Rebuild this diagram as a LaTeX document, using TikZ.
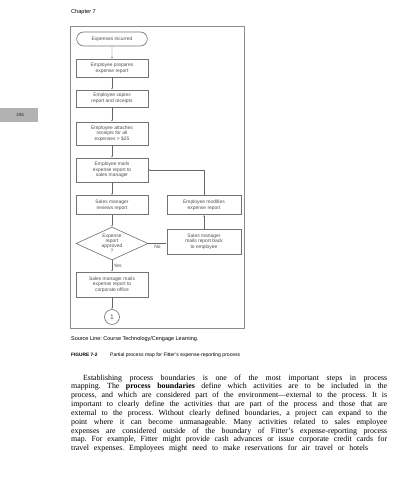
\documentclass[tikz,border=0pt]{standalone}
\usepackage{fontspec}
\setmainfont{Liberation Serif}
\setsansfont{Liberation Sans}
\usetikzlibrary{arrows.meta, shapes.geometric, shapes.misc}
\frenchspacing
\newcommand{\flowfont}{\sffamily\fontsize{7}{8.1}\selectfont}
\newcommand{\bodyfont}{\rmfamily\fontsize{11.2}{12}\selectfont}
\tikzset{
  stepbox/.style = {draw=black!55, line width=0.9pt, minimum width=36mm, align=center, font=\flowfont, text=black!70, inner sep=1pt},
  term/.style = {stepbox, rounded rectangle, minimum height=7mm},
  decision/.style = {stepbox, diamond, aspect=2.2, minimum width=36mm, minimum height=16.5mm, inner sep=-1.5pt, font=\sffamily\fontsize{7}{7.4}\selectfont},
  flow/.style = {draw=black!60, line width=0.5pt, -{Latex[length=2.4pt, width=2pt]}},
  lbl/.style = {font=\flowfont, text=black!70, inner sep=2pt},
  bodyline/.style = {anchor=base west, inner sep=0pt, font=\bodyfont}
}
\begin{document}
\begin{tikzpicture}[x=0.5mm, y=-0.5mm]
\useasboundingbox (0,0) rectangle (403,480);
\node[anchor=west, inner sep=0pt, font=\sffamily\fontsize{8}{9}\selectfont] (chap) at (71,12) {Chapter 7};
\fill[black!30] (0,108) rectangle (38,122);
\node[font=\sffamily\fontsize{6.5}{7}\selectfont, text=black!80] (page) at (20,115) {186};
\draw[black!45, line width=0.5pt] (70,26) rectangle (244,328);

\node[term] (inc) at (112,39) {Expenses incurred};
\node[stepbox, minimum height=9mm] (prep) at (112,68) {Employee prepares\\expense report};
\node[stepbox, minimum height=8.5mm] (copy) at (112,98.5) {Employee copies\\report and receipts};
\node[stepbox, minimum height=11.5mm] (attach) at (112,133.5) {Employee attaches\\receipts for all\\expenses > \$25};
\node[stepbox, minimum height=12mm] (mail) at (112,170) {Employee mails\\expense report to\\sales manager};
\node[stepbox, minimum height=9.5mm] (review) at (112,205) {Sales manager\\reviews report};
\node[decision] (ok) at (112,243.5) {Expense\\report\\approved\\?};
\node[stepbox, minimum height=12.5mm] (corp) at (112,284.5) {Sales manager mails\\expense report to\\corporate office};
\node[stepbox, circle, minimum size=7.5mm, inner sep=0pt, font=\sffamily\fontsize{9.5}{10}\selectfont] (one) at (112,317) {1};
\node[stepbox, minimum width=37mm, minimum height=9.5mm] (modify) at (204,205) {Employee modifies\\expense report};
\node[stepbox, minimum width=37mm, minimum height=12.5mm] (back) at (204,241.5) {Sales manager\\mails report back\\to employee};

\draw[flow] (inc) -- (prep);
\draw[flow] (prep) -- (copy);
\draw[flow] (copy) -- (attach);
\draw[flow] (attach) -- (mail);
\draw[flow] (mail) -- (review);
\draw[flow] (review) -- (ok);
\draw[flow] (ok) -- node[right, lbl] {Yes} (corp);
\draw[flow] (corp) -- (one);
\draw[flow] (ok.east) -- node[below, lbl] {No} (ok.east -| back.west);
\draw[flow] (back) -- (modify);
\draw[flow] (modify.north) |- (mail.east);

\node[anchor=west, inner sep=0pt, font=\sffamily\fontsize{7.8}{9}\selectfont] (src) at (71,339) {Source Line: Course Technology/Cengage Learning.};
\node[anchor=west, inner sep=0pt, font=\sffamily\bfseries\fontsize{6.8}{8}\selectfont] (fig) at (71,355) {FIGURE 7-2};
\node[anchor=west, inner sep=0pt, font=\sffamily\fontsize{7.2}{8}\selectfont] (cap) at (110,355) {Partial process map for Fitter's expense-reporting process};

\node[bodyline] (l1) at (83,380) {\makebox[152mm][s]{Establishing process boundaries is one of the most important steps in process}};
\node[bodyline] (l2) at (71,388.8) {\makebox[158mm][s]{mapping. The \textbf{process boundaries} define which activities are to be included in the}};
\node[bodyline] (l3) at (71,397.7) {\makebox[158mm][s]{process, and which are considered part of the environment—external to the process. It is}};
\node[bodyline] (l4) at (71,406.5) {\makebox[158mm][s]{important to clearly define the activities that are part of the process and those that are}};
\node[bodyline] (l5) at (71,415.3) {\makebox[158mm][s]{external to the process. Without clearly defined boundaries, a project can expand to the}};
\node[bodyline] (l6) at (71,424.2) {\makebox[158mm][s]{point where it can become unmanageable. Many activities related to sales employee}};
\node[bodyline] (l7) at (71,433) {\makebox[158mm][s]{expenses are considered outside of the boundary of Fitter's expense-reporting process}};
\node[bodyline] (l8) at (71,441.8) {\makebox[158mm][s]{map. For example, Fitter might provide cash advances or issue corporate credit cards for}};
\node[bodyline] (l9) at (71,450.7) {\makebox[148.5mm][s]{travel expenses. Employees might need to make reservations for air travel or hotels}};
\end{tikzpicture}
\end{document}
